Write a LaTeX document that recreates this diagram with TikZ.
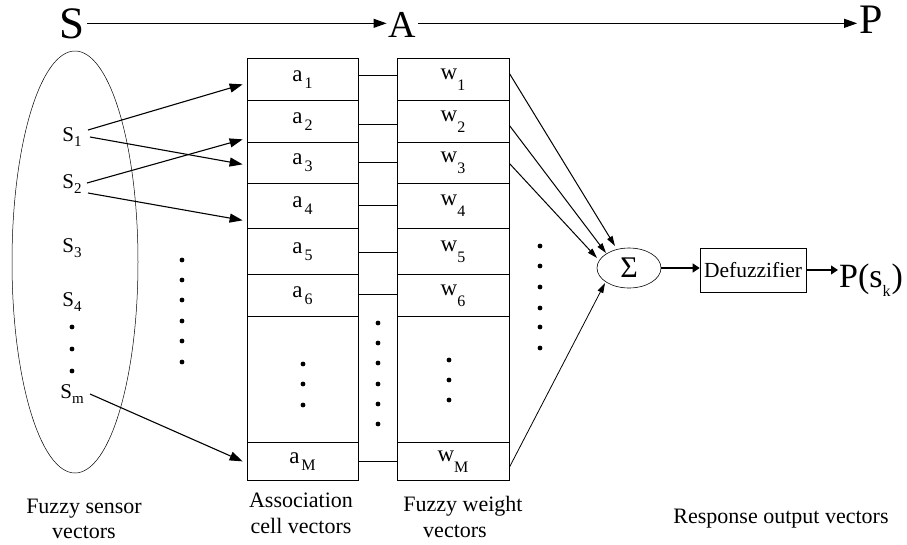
\documentclass[tikz,border=0pt]{standalone}
\usepackage{fontspec}
\setmainfont{Liberation Serif}
\usetikzlibrary{shapes.geometric,arrows.meta,calc}

\newcommand\asub[1]{\hspace{2pt}\raisebox{-7pt}{\fontsize{16}{16}\selectfont #1}}
\newcommand\wsub[1]{\raisebox{-11pt}{\fontsize{16}{16}\selectfont #1}}
\newcommand\ssub[1]{\raisebox{-5pt}{\fontsize{15}{15}\selectfont #1}}

\begin{document}
\begin{tikzpicture}[x=1pt,y=-1pt,
  cellA/.style={draw, line width=0.7pt, minimum width=111pt, inner sep=0pt, anchor=north,
    font=\fontsize{23}{23}\selectfont},
  cellW/.style={cellA, minimum width=112pt},
  slab/.style={inner sep=1pt, font=\fontsize{21}{21}\selectfont},
  biglab/.style={inner sep=2pt, anchor=base},
  caption/.style={inner sep=0pt, anchor=base, font=\fontsize{22}{22}\selectfont},
  bigarrow/.style={line width=1.1pt, -{Triangle[length=13pt,width=9pt]}},
  smallarrow/.style={line width=1pt, -{Triangle[length=10pt,width=6pt]}},
  outarrow/.style={line width=1.1pt, -{Triangle[length=7pt,width=9pt]}},
  link/.style={line width=0.8pt},
  dot/.style={fill=black}
]
\useasboundingbox (0,0) rectangle (907,544);

% top line S -> A -> P
\node[biglab, font=\fontsize{45}{45}\selectfont] (S) at (72.5,38) {S};
\node[biglab, font=\fontsize{38}{38}\selectfont] (A) at (402.5,37) {A};
\node[biglab, font=\fontsize{42}{42}\selectfont] (P) at (871,33) {P};
\draw[bigarrow] (S.east) -- (S.east -| A.west);
\draw[bigarrow] (A.east |- S.east) -- (S.east -| P.west);

% sensor ellipse
\node[draw, ellipse, minimum width=126pt, minimum height=422pt, inner sep=0pt, line width=0.5pt] (sens) at (75,262) {};
\node[slab] (s1) at (72,137) {S\ssub{1}};
\node[slab] (s2) at (72,184) {S\ssub{2}};
\node[slab] (s3) at (72,248) {S\ssub{3}};
\node[slab] (s4) at (72,302) {S\ssub{4}};
\node[slab] (sm) at (72,394) {S\ssub{m}};
\foreach \y in {327,349,371} \fill[dot] (72,\y) circle (2.4pt);

% middle dots
\foreach \y in {260,280,300,321,341,362} \fill[dot] (182,\y) circle (2.4pt);

% association cells
\node[cellA, minimum height=42pt] (a1) at (302.5,58) {a\asub{1}};
\node[cellA, minimum height=42pt] (a2) at (302.5,100) {a\asub{2}};
\node[cellA, minimum height=41pt] (a3) at (302.5,142) {a\asub{3}};
\node[cellA, minimum height=45pt] (a4) at (302.5,183) {a\asub{4}};
\node[cellA, minimum height=46pt] (a5) at (302.5,228) {a\asub{5}};
\node[cellA, minimum height=42pt] (a6) at (302.5,274) {a\asub{6}};
\node[cellA, minimum height=126pt] (ad) at (302.5,316) {};
\node[cellA, minimum height=38pt] (aM) at (302.5,442) {a\asub{M}};
\foreach \y in {364,384,405} \fill[dot] (303,\y) circle (2.4pt);

% weight cells
\node[cellW, minimum height=42pt] (w1) at (453,58) {w\wsub{1}};
\node[cellW, minimum height=42pt] (w2) at (453,100) {w\wsub{2}};
\node[cellW, minimum height=41pt] (w3) at (453,142) {w\wsub{3}};
\node[cellW, minimum height=45pt] (w4) at (453,183) {w\wsub{4}};
\node[cellW, minimum height=46pt] (w5) at (453,228) {w\wsub{5}};
\node[cellW, minimum height=42pt] (w6) at (453,274) {w\wsub{6}};
\node[cellW, minimum height=126pt] (wd) at (453,316) {};
\node[cellW, minimum height=38pt] (wM) at (453,442) {w\wsub{M}};
\foreach \y in {360,380,400} \fill[dot] (449,\y) circle (2.4pt);

% links between cells
\draw[link] ($(a1.east)+(0,-4)$) -- ($(w1.west)+(0,-4)$);
\draw[link] ($(a2.east)+(0,3)$) -- ($(w2.west)+(0,3)$);
\draw[link] (a3.east) -- (w3.west);
\draw[link] (a4.east) -- (w4.west);
\draw[link] ($(a5.east)+(0,1)$) -- ($(w5.west)+(0,1)$);
\draw[link] ($(a6.east)+(0,-1)$) -- ($(w6.west)+(0,-1)$);
\draw[link] (aM.east) -- (wM.west);
\foreach \y in {323,343,363,384,404,424} \fill[dot] (378,\y) circle (2.4pt);

% right dots
\foreach \y in {246,266,287,308,327,348} \fill[dot] (540,\y) circle (2.4pt);

% sensor -> association arrows
\draw[bigarrow] ($(s1.center)+(16,-7)$) -- ($(a1.west)+(-4,5)$);
\draw[bigarrow] ($(s1.center)+(18,0)$) -- ($(a3.west)+(-4,1.5)$);
\draw[bigarrow] ($(s2.center)+(15,-1)$) -- ($(a2.west)+(-4,18)$);
\draw[bigarrow] ($(s2.center)+(16,9)$) -- ($(a4.west)+(-4,14.5)$);
\draw[bigarrow] ($(sm.center)+(18,0)$) -- ($(aM.west)+(-4,0)$);

% summation
\node[draw, ellipse, minimum width=64pt, minimum height=40pt, inner sep=0pt, line width=0.6pt,
  font=\fontsize{30}{30}\selectfont] (sig) at (629,268) {Σ};
\draw[smallarrow] ($(w1.east)+(0,-6)$) -- ($(sig.center)+(-14,-22)$);
\draw[smallarrow] ($(w2.east)+(0,4)$) -- ($(sig.center)+(-23,-15)$);
\draw[smallarrow] ($(w3.east)+(0,0.5)$) -- ($(sig.center)+(-32,-10)$);
\draw[smallarrow, line width=0.8pt] ($(wM.east)+(0,6)$) -- ($(sig.center)+(-24,15)$);

% defuzzifier and output
\node[draw, minimum width=106pt, minimum height=44pt, inner sep=0pt, line width=0.6pt,
  font=\fontsize{21.5}{21.5}\selectfont] (defz) at (753,270) {Defuzzifier};
\node[anchor=base west, inner sep=1pt, font=\fontsize{34}{34}\selectfont] (out) at (838,287)
  {P(s\raisebox{-9pt}{\fontsize{16}{16}\selectfont k}\hspace{1pt})};
\draw[outarrow] (sig.east) -- (sig.east -| defz.west);
\draw[outarrow] (defz.east) -- (defz.east -| out.west);

% captions
\node[caption] (c1a) at (84,513) {Fuzzy sensor};
\node[caption] (c1b) at (84,538) {vectors};
\node[caption] (c2a) at (301,507) {Association};
\node[caption] (c2b) at (301,533) {cell vectors};
\node[caption] (c3a) at (463,511) {Fuzzy weight};
\node[caption] (c3b) at (455,537) {vectors};
\node[caption] (c4) at (781,523) {Response output vectors};
\end{tikzpicture}
\end{document}
